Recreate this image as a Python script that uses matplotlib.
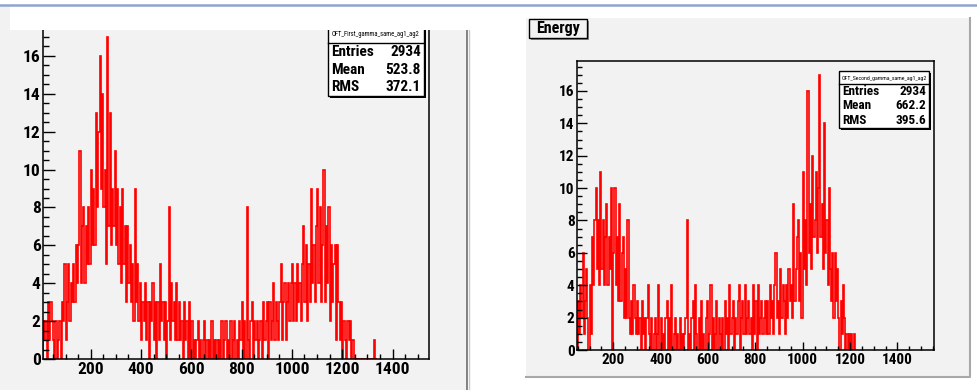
import numpy as np
import matplotlib
matplotlib.use("Agg")
import matplotlib.pyplot as plt
from matplotlib.patches import Rectangle
from matplotlib.lines import Line2D
from matplotlib.ticker import MultipleLocator

plt.rcParams['font.family'] = ['Roboto Condensed', 'PT Sans Narrow', 'Liberation Sans']

# left histogram: 5-unit bins starting at 10
first_start = 10
first_counts = [
    2, 1, 2, 0, 3, 1, 3, 2, 1, 0, 2, 0, 1, 2, 0, 3, 2, 5, 1, 3,
    5, 2, 4, 3, 5, 3, 6, 4, 6, 11, 4, 7, 8, 4, 7, 5, 8, 5, 10, 6,
    9, 6, 13, 8, 12, 16, 9, 14, 8, 10, 5, 17, 7, 13, 6, 9, 7, 11, 6, 9,
    5, 8, 4, 9, 5, 7, 3, 7, 4, 6, 3, 5, 2, 9, 3, 5, 2, 4, 1, 3,
    2, 4, 1, 3, 0, 3, 2, 4, 1, 3, 0, 3, 1, 5, 2, 3, 1, 3, 0, 2,
    8, 1, 4, 2, 3, 1, 4, 1, 3, 1, 2, 0, 3, 1, 2, 0, 3, 0, 2, 0,
    1, 0, 1, 2, 0, 1, 0, 1, 2, 0, 1, 0, 1, 0, 2, 0, 1, 0, 1, 0,
    1, 0, 2, 0, 1, 2, 0, 1, 0, 2, 0, 1, 2, 0, 1, 0, 2, 1, 3, 0,
    2, 0, 8, 1, 0, 2, 3, 0, 2, 1, 2, 0, 1, 2, 0, 3, 1, 2, 3, 0,
    3, 1, 2, 4, 1, 3, 2, 1, 3, 5, 1, 3, 4, 1, 3, 4, 2, 4, 5, 2,
    4, 2, 5, 3, 4, 2, 5, 7, 3, 6, 2, 5, 3, 9, 4, 6, 3, 7, 9, 4,
    8, 3, 6, 10, 3, 7, 4, 8, 2, 6, 3, 5, 6, 1, 6, 3, 1, 3, 0, 2,
    1, 0, 2, 1, 2, 0, 1, 0, 0, 0, 0, 0, 0, 0, 0, 0, 0, 0, 0, 0,
    0, 0, 0, 1, 0, 0,
]
first_stats = [("Entries", "2934"), ("Mean", "523.8"), ("RMS", "372.1")]
first_name = "OFT_First_gamma_same_ag1_ag2"

# right histogram: 5-unit bins starting at 50
second_start = 50
second_counts = [
    3, 1, 4, 2, 6, 1, 3, 5, 2, 0, 4, 1, 7, 4, 8, 10, 5, 8, 4, 11,
    5, 8, 4, 7, 9, 4, 7, 5, 10, 0, 6, 10, 4, 7, 3, 9, 3, 6, 7, 2,
    5, 2, 8, 2, 1, 3, 1, 4, 2, 1, 3, 1, 2, 0, 3, 1, 2, 0, 2, 4,
    1, 0, 2, 0, 1, 2, 0, 1, 4, 0, 2, 0, 1, 0, 2, 3, 0, 2, 0, 4,
    0, 1, 2, 0, 1, 0, 2, 0, 1, 0, 1, 2, 8, 0, 1, 0, 2, 3, 0, 4,
    1, 0, 2, 0, 3, 0, 1, 0, 2, 3, 0, 1, 4, 0, 2, 0, 1, 3, 0, 2,
    1, 0, 2, 0, 3, 1, 2, 0, 4, 1, 2, 3, 0, 2, 1, 3, 4, 0, 2, 3,
    1, 4, 1, 2, 3, 1, 2, 0, 4, 1, 3, 0, 4, 1, 2, 3, 1, 2, 3, 1,
    3, 1, 4, 2, 3, 1, 4, 6, 2, 3, 1, 5, 2, 4, 3, 1, 4, 2, 5, 3,
    4, 2, 9, 3, 5, 7, 8, 3, 6, 2, 11, 5, 8, 4, 16, 6, 9, 5, 12, 7,
    8, 11, 6, 10, 17, 7, 9, 5, 14, 6, 8, 4, 10, 5, 3, 6, 2, 6, 3, 5,
    2, 0, 3, 1, 4, 2, 0, 1, 0, 1, 0, 1, 0, 1,
]
second_stats = [("Entries", "2934"), ("Mean", "662.2"), ("RMS", "395.6")]
second_name = "OFT_Second_gamma_same_ag1_ag2"
title = "Energy"

W, H = 978, 390
GREY = '#f2f2f2'


def fx(x):
    return x / W


def fy(y):
    return 1 - y / H


def frect(x0, y0, x1, y1, **kw):
    return Rectangle((fx(x0), fy(y1)), (x1 - x0) / W, (y1 - y0) / H,
                     transform=fig.transFigure, **kw)


def fline(xs, ys, **kw):
    return Line2D([fx(x) for x in xs], [fy(y) for y in ys],
                  transform=fig.transFigure, **kw)


fig = plt.figure(figsize=(9.78, 3.9), dpi=100)

# canvas panels
fig.add_artist(frect(0, 30, 467, 390, facecolor=GREY, edgecolor='none', zorder=-2))
fig.add_artist(frect(0, 5, 10, 30, facecolor=GREY, edgecolor='none', zorder=-2))
fig.add_artist(fline([467, 467], [30, 390], color='#6e6e6e', lw=1.2, zorder=-1))
fig.add_artist(fline([469, 469], [30, 390], color='#c8c8c8', lw=1.0, zorder=-1))
fig.add_artist(frect(526, 18, 970, 377, facecolor=GREY, edgecolor='none', zorder=-2))
fig.add_artist(fline([970, 970, 526], [18, 377, 377], color='#a8a8a8', lw=1.5, zorder=-1))


def draw_hist(ax, start, counts, xlim, fs, ylen, xlen):
    edges = start + 5 * np.arange(len(counts) + 1)
    ax.stairs(counts, edges, color='red', lw=1.2, baseline=0)
    ax.set_xlim(*xlim)
    ax.set_ylim(0, 17.85)
    ax.set_facecolor(GREY)
    for s in ax.spines.values():
        s.set_linewidth(1.1)
    ax.xaxis.set_major_locator(MultipleLocator(200))
    ax.xaxis.set_minor_locator(MultipleLocator(50))
    ax.yaxis.set_major_locator(MultipleLocator(2))
    ax.yaxis.set_minor_locator(MultipleLocator(0.5))
    ax.tick_params(axis='y', which='major', direction='in', length=ylen, width=1,
                   labelsize=fs, pad=2)
    ax.tick_params(axis='y', which='minor', direction='in', length=ylen / 2, width=1)
    ax.tick_params(axis='x', which='major', direction='in', length=xlen, width=1,
                   labelsize=fs, pad=2)
    ax.tick_params(axis='x', which='minor', direction='in', length=xlen / 2, width=1)
    for lab in ax.get_xticklabels() + ax.get_yticklabels():
        lab.set_fontweight('bold')


# left pad
ax1 = fig.add_axes([fx(43.3), fy(359), (429 - 43.3) / W, (359 - 20.9) / H])
draw_hist(ax1, first_start, first_counts, (11.5, 1545), 12.5, 8.5, 7.5)
ax1.set_xticks(np.arange(200, 1401, 200))

# right pad
ax2 = fig.add_axes([fx(577.3), fy(350), (934.3 - 577.3) / W, (350 - 61) / H])
draw_hist(ax2, second_start, second_counts, (48, 1556), 11, 7.5, 5.5)
ax2.set_xticks(np.arange(200, 1401, 200))


def stats_box(x0, y0, x1, y1, sep, rows, name, fs, tfs):
    fig.add_artist(frect(x0 + 2, y0 + 2, x1 + 2, y1 + 2, facecolor='black',
                         edgecolor='none', zorder=4))
    fig.add_artist(frect(x0, y0, x1, y1, facecolor='white', edgecolor='black',
                         lw=1.0, zorder=5))
    fig.add_artist(fline([x0, x1], [sep, sep], color='black', lw=1.0, zorder=6))
    fig.text(fx((x0 + x1) / 2), fy((y0 + sep) / 2 + 1), name, fontsize=tfs,
             ha='center', va='center', zorder=6)
    step = (y1 - sep) / len(rows)
    for i, (k, v) in enumerate(rows):
        yy = sep + step * (i + 0.5)
        fig.text(fx(x0 + 3), fy(yy), k, fontsize=fs, fontweight='bold',
                 ha='left', va='center', zorder=6)
        fig.text(fx(x1 - 3), fy(yy), v, fontsize=fs, fontweight='bold',
                 ha='right', va='center', zorder=6)


stats_box(328, 24, 424, 96, 43, first_stats, first_name, 11, 4.8)
stats_box(839, 71, 929, 128, 84, second_stats, second_name, 9.5, 4.2)

# white strip covering the top of the left pad
fig.add_artist(frect(10, 5, 500, 30, facecolor='white', edgecolor='none', zorder=10))
fig.add_artist(fline([0, 978], [5, 5], color='#8ea4cc', lw=1.8, zorder=11))

# title box
fig.add_artist(frect(531, 21, 589, 40, facecolor='#888888', edgecolor='none', zorder=4))
fig.add_artist(frect(529, 19, 587, 38, facecolor=GREY, edgecolor='black', lw=1.0, zorder=5))
fig.text(fx(558), fy(28.5), title, fontsize=11.5, fontweight='bold',
         ha='center', va='center', zorder=6)

fig.savefig("out.png", dpi=100)
